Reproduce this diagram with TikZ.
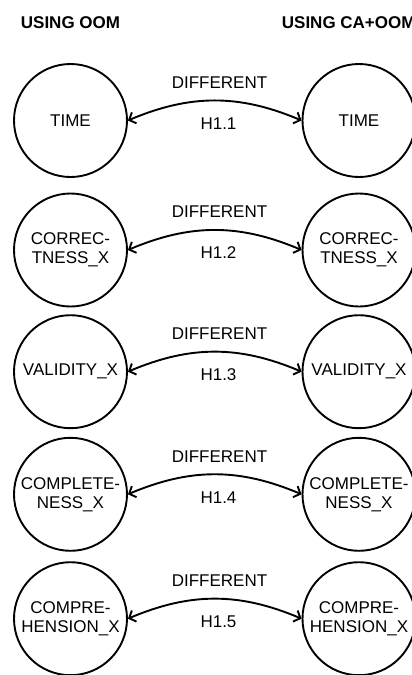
\documentclass[tikz,border=0pt]{standalone}
\usepackage{fontspec}
\setmainfont{Liberation Sans}
\usetikzlibrary{arrows.meta}
\begin{document}
\begin{tikzpicture}[x=1pt,y=-1pt,
  state/.style={circle,draw,line width=1.9pt,minimum size=113pt,inner sep=0pt,align=center,font=\fontsize{17}{19}\selectfont},
  head/.style={font=\fontsize{17}{19}\selectfont\bfseries,anchor=base west,inner sep=0pt},
  lbl/.style={font=\fontsize{17}{19}\selectfont,anchor=base,inner sep=0pt},
  link/.style={line width=1.9pt,{Straight Barb[length=5.5pt,width=12pt]}-{Straight Barb[length=5.5pt,width=12pt]}}]
\useasboundingbox (0,0) rectangle (412,675);
\node[head] (h1) at (20.7,28) {USING OOM};
\node[head] (h2) at (281.7,28) {USING CA+OOM};
\foreach \i/\y/\t in {1/120.5/{TIME},
                      2/250/{CORREC-\\TNESS\_X},
                      3/371.7/{VALIDITY\_X},
                      4/494.3/{COMPLETE-\\NESS\_X},
                      5/618.7/{COMPRE-\\HENSION\_X}} {
  \node[state] (L\i) at (70.5,\y) {\t};
  \node[state] (R\i) at (359,\y) {\t};
  \draw[link] (L\i.east) to[bend left=23] (R\i.west);
  \node[lbl] (D\i) at (219.5,\y-32.2) {DIFFERENT};
  \node[lbl] (H\i) at (218.5,\y+8.8) {H1.\i};
}
\end{tikzpicture}
\end{document}
